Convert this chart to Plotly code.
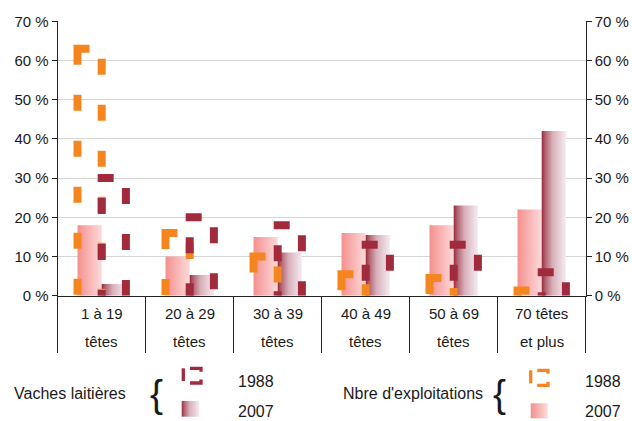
import plotly.graph_objects as go

# ---------------- data ----------------
categories_line1 = ["1 à 19", "20 à 29", "30 à 39", "40 à 49", "50 à 69", "70 têtes"]
categories_line2 = ["têtes", "têtes", "têtes", "têtes", "têtes", "et plus"]
exploitations_1988 = [63, 16, 10, 5.5, 4.5, 1.3]
exploitations_2007 = [18, 10, 15, 16, 18, 22]
vaches_1988 = [30, 20, 18, 13, 13, 6]
vaches_2007 = [3, 5.3, 11, 15.5, 23, 42]
y_ticks = [0, 10, 20, 30, 40, 50, 60, 70]
y_tick_labels = ["0 %", "10 %", "20 %", "30 %", "40 %", "50 %", "60 %", "70 %"]

# ---------------- styles / geometry ----------------
W, H = 632, 421
PL, PR, PT, PB = 57.7, 585.7, 21.3, 295.7
N = len(categories_line1)
PX_PER_X = (PR - PL) / N
BAR_W = 0.275
FONT = "Liberation Sans, Arial, sans-serif"
TXT = "#1a1a1a"
ORANGE = "#F5861F"
DARKRED = "#A12B3D"
PINK_SCALE = [[0, "#F4908E"], [1, "#FCDADA"]]
RED_SCALE = [[0, "#982A3B"], [0.15, "#B2636F"], [0.45, "#D8B0BA"], [1, "#F5ECF1"]]
LINE_W = 8
DASH_RIGHT = "0px,10px,16px,20px"
DASH_LEFT_ORANGE = "28px,30px" + ",16px,30px" * 7
DASH_LEFT_RED = "16px,16px" + ",16px,30px" * 7


def pxp(x):
    return x / W


def pyp(y):
    return 1 - y / H


fig = go.Figure()


def add_fill_bars(values, offset, scale):
    for i, v in enumerate(values):
        xl = i + offset
        xr = xl + BAR_W
        fig.add_trace(go.Scatter(
            x=[xl, xl, xr, xr, xl], y=[0, v, v, 0, 0],
            mode="lines", fill="toself", line=dict(width=0),
            fillgradient=dict(type="horizontal", colorscale=scale),
            hoverinfo="skip", showlegend=False,
            xaxis="x", yaxis="y"))


def add_outline_bars(values, offset, color, dash_left):
    dx = 12 / PX_PER_X
    for i, v in enumerate(values):
        xl = i + offset
        xr = xl + BAR_W
        fig.add_trace(go.Scatter(
            x=[xl + dx, xl, xl], y=[v, v, 0], mode="lines",
            line=dict(color=color, width=LINE_W, dash=dash_left),
            hoverinfo="skip", showlegend=False, xaxis="x", yaxis="y"))
        fig.add_trace(go.Scatter(
            x=[xr, xr], y=[v, 0], mode="lines",
            line=dict(color=color, width=LINE_W, dash=DASH_RIGHT),
            hoverinfo="skip", showlegend=False, xaxis="x", yaxis="y"))


add_fill_bars(exploitations_2007, -BAR_W, PINK_SCALE)
add_fill_bars(vaches_2007, 0, RED_SCALE)
add_outline_bars(exploitations_1988, -BAR_W, ORANGE, DASH_LEFT_ORANGE)
add_outline_bars(vaches_1988, 0, DARKRED, DASH_LEFT_RED)

# ---------------- custom legend (pixel overlay axes) ----------------
def legend_outline(x0, x1, y0, y1, xm, color):
    fig.add_trace(go.Scatter(
        x=[x0, x0, None, xm, x1, x1, None, xm, x1, x1],
        y=[y0, y1 - 2, None, y0, y0, y0 + 3.4, None, y1, y1, y1 - 3.6],
        mode="lines", line=dict(color=color, width=3.3),
        hoverinfo="skip", showlegend=False, xaxis="x3", yaxis="y3"))


def legend_fill(x0, x1, y0, y1, scale):
    fig.add_trace(go.Scatter(
        x=[x0, x0, x1, x1, x0], y=[y1, y0, y0, y1, y1],
        mode="lines", fill="toself", line=dict(width=0),
        fillgradient=dict(type="horizontal", colorscale=scale),
        hoverinfo="skip", showlegend=False, xaxis="x3", yaxis="y3"))


legend_outline(183.3, 201, 368.3, 383, 190, DARKRED)
legend_fill(181.7, 199.3, 401, 416.7, RED_SCALE)
legend_outline(530.7, 548, 370.3, 385.3, 537.3, ORANGE)
legend_fill(530.7, 547.7, 403.3, 418.3, PINK_SCALE)

annotations = []
for i in range(N):
    annotations.append(dict(x=i, y=pyp(313.7), xref="x", yref="paper",
                            text=categories_line1[i], showarrow=False,
                            xanchor="center", yanchor="middle",
                            font=dict(family=FONT, size=15, color=TXT)))
    annotations.append(dict(x=i, y=pyp(341.4), xref="x", yref="paper",
                            text=categories_line2[i], showarrow=False,
                            xanchor="center", yanchor="middle",
                            font=dict(family=FONT, size=15, color=TXT)))


def txt(x, y, s, size=16):
    annotations.append(dict(x=pxp(x), y=pyp(y), xref="paper", yref="paper",
                            text=s, showarrow=False, xanchor="left",
                            yanchor="middle",
                            font=dict(family=FONT, size=size, color=TXT)))


txt(12.3, 393.7, "Vaches laitières")
txt(148, 393, "{", 39)
txt(236, 381.7, "1988")
txt(236, 411.5, "2007")
txt(341, 393.7, "Nbre d'exploitations")
txt(491.3, 393, "{", 39)
txt(583.3, 381.7, "1988")
txt(583.3, 411.5, "2007")

axis_common = dict(
    range=[0, 70], tickvals=y_ticks, ticktext=y_tick_labels, ticks="outside",
    ticklen=5, tickcolor="#222", showline=True, linecolor="#222",
    linewidth=1, zeroline=False, automargin=False,
    tickfont=dict(family=FONT, size=15, color=TXT),
    domain=[pyp(PB), pyp(PT)],
)

fig.update_layout(
    width=W, height=H,
    margin=dict(l=0, r=0, t=0, b=0, pad=0, autoexpand=False),
    paper_bgcolor="white", plot_bgcolor="rgba(0,0,0,0)",
    showlegend=False,
    xaxis=dict(domain=[pxp(PL), pxp(PR)], range=[-0.5, N - 0.5],
               tickvals=[k - 0.5 for k in range(N + 1)], ticks="outside",
               ticklen=56, tickcolor="#222", tickwidth=1, automargin=False,
               showticklabels=False, showline=True, linecolor="#222",
               showgrid=False, zeroline=False, anchor="y", fixedrange=True),
    yaxis=dict(**axis_common, showgrid=True, gridcolor="#D6D6D6",
               gridwidth=1, anchor="x", side="left"),
    yaxis2=dict(**axis_common, showgrid=False, overlaying="y", side="right",
                anchor="x"),
    xaxis3=dict(domain=[0, 1], range=[0, W], visible=False, anchor="y3",
                automargin=False),
    yaxis3=dict(domain=[0, 1], range=[H, 0], visible=False, anchor="x3",
                automargin=False),
    annotations=annotations,
)

# invisible trace to activate right axis
fig.add_trace(go.Scatter(x=[0], y=[0], mode="markers", marker=dict(opacity=0),
                         hoverinfo="skip", showlegend=False,
                         xaxis="x", yaxis="y2"))

fig.write_html(
    "out.html",
    config={"displayModeBar": False, "staticPlot": True},
    post_script="document.body.style.margin='0';document.body.style.overflow='hidden';",
)
